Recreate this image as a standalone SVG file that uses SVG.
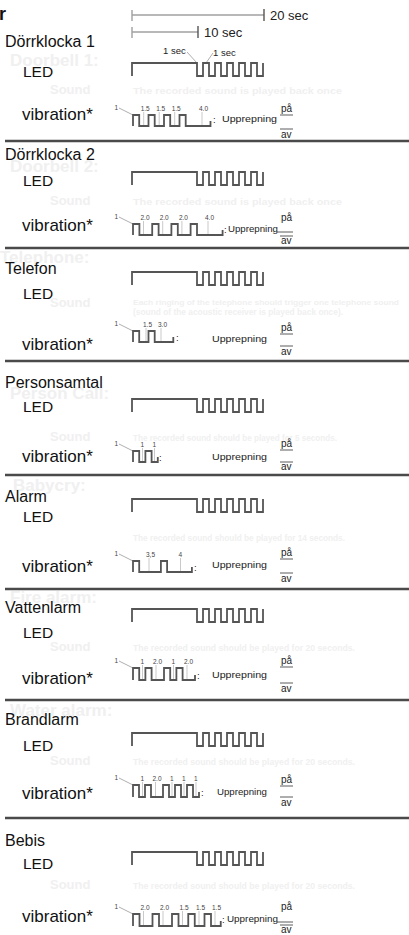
<svg xmlns="http://www.w3.org/2000/svg" width="409" height="935" viewBox="0 0 409 935">
<style>
text{font-family:"Liberation Sans",Arial,sans-serif}
.bg{fill:#fff}
.ti{font-size:16px;fill:#111}
.lb{font-size:15.5px;fill:#111}
.vb{font-size:17px;fill:#111}
.up{font-size:9.5px;fill:#222}
.pa{font-size:10px;fill:#222}
.n{font-size:6.5px;fill:#444}
.sec{font-size:13px;fill:#222}
.sec1{font-size:9.5px;fill:#222}
.gh{font-weight:bold;font-size:17px;fill:#f0f0f0}
.gs{font-weight:bold;font-size:9px;fill:#f0f0f0}
.gl{font-weight:bold;font-size:13px;fill:#f0f0f0}
.w{fill:none;stroke:#555;stroke-width:1.8}
.tk{stroke:#bbb;stroke-width:0.8}
.ld{stroke:#999;stroke-width:0.8}
.ul{stroke:#333;stroke-width:0.8}
.sep{stroke:#4a4a4a;stroke-width:2.4}
.bar{stroke:#a0a0a0;stroke-width:1.4}
.bt{stroke:#555;stroke-width:1.4}
</style>
<defs>
<path id="led" class="w" d="M0,13V0H65V13H71V0H77V13H83V0H89V13H95V0H101V13H107V0H113V13H119V0H125V13H131V0"/>
</defs>
<rect class="bg" x="0" y="0" width="409" height="935"/>

<g id="header">
<text x="-1" y="20" style="font-size:18px;font-weight:bold;fill:#111">r</text>
<line class="bar" x1="132" y1="15" x2="264" y2="15"/>
<line class="bar" x1="132" y1="10" x2="132" y2="21"/>
<line class="bt" x1="264" y1="9" x2="264" y2="21"/>
<text class="sec" x="270" y="20">20 sec</text>
<line class="bar" x1="132" y1="32" x2="198" y2="32"/>
<line class="bar" x1="132" y1="27" x2="132" y2="38"/>
<line class="bt" x1="198" y1="26" x2="198" y2="38"/>
<text class="sec" x="204" y="37">10 sec</text>
</g>

<g id="doorbell1">
<text class="gh" x="10" y="66">Doorbell 1:</text>
<text class="gl" x="50" y="94">Sound</text>
<text class="gs" x="133" y="94" textLength="209" lengthAdjust="spacingAndGlyphs">The recorded sound is played back once</text>
<text class="ti" x="5" y="47">Dörrklocka 1</text>
<text class="lb" x="23" y="77">LED</text>
<text class="sec1" x="163" y="54">1 sec</text>
<text class="sec1" x="213" y="56">1 sec</text>
<line class="ld" x1="187" y1="52" x2="197" y2="63"/>
<line class="ld" x1="213" y1="53" x2="206" y2="63"/>
<use href="#led" x="132" y="63"/>
<text class="vb" x="22" y="120">vibration*</text>
<text class="n" x="114.5" y="110">1</text>
<line class="ld" x1="119" y1="108" x2="133" y2="115"/>
<text class="n" x="140.7" y="111">1.5</text><text class="n" x="156.2" y="111">1.5</text><text class="n" x="171.7" y="111">1.5</text><text class="n" x="199" y="111">4.0</text>
<path class="tk" d="M143.7,112V126M159.2,112V126M174.7,112V126M202,112V126"/>
<path class="w" d="M133,126V115H139.2V126H148.5V115H154.7V126H164V115H170.2V126H179.5V115H185.7V126H210.5V121"/>
<text class="up" x="213" y="123">:</text>
<text class="up" x="222" y="122" textLength="55" lengthAdjust="spacingAndGlyphs">Upprepning</text>
<text class="pa" x="281" y="112">på</text>
<line class="ul" x1="280" y1="115" x2="293" y2="115"/>
<line class="ul" x1="280" y1="129" x2="293" y2="129"/>
<text class="pa" x="281" y="138">av</text>
</g>

<g id="doorbell2">
<text class="gh" x="10" y="172">Doorbell 2:</text>
<text class="gl" x="50" y="205">Sound</text>
<text class="gs" x="133" y="205" textLength="209" lengthAdjust="spacingAndGlyphs">The recorded sound is played back once</text>
<text class="ti" x="5" y="160">Dörrklocka 2</text>
<text class="lb" x="23" y="186">LED</text>
<use href="#led" x="132" y="172"/>
<text class="vb" x="22" y="231">vibration*</text>
<text class="n" x="114.5" y="219">1</text>
<line class="ld" x1="119" y1="217" x2="133" y2="224"/>
<text class="n" x="140.5" y="220">2.0</text><text class="n" x="159.7" y="220">2.0</text><text class="n" x="178.9" y="220">2.0</text><text class="n" x="205" y="220">4.0</text>
<path class="tk" d="M143.5,221V235M162.7,221V235M181.9,221V235M208,221V235"/>
<path class="w" d="M133,235V224H139.4V235H152.2V224H158.6V235H171.4V224H177.8V235H190.6V224H197V235H222.6V230"/>
<text class="up" x="224" y="233">:</text>
<text class="up" x="228" y="232" textLength="50" lengthAdjust="spacingAndGlyphs">Upprepning</text>
<text class="pa" x="281" y="221">på</text>
<line class="ul" x1="277" y1="232" x2="293" y2="232"/>
<line class="ul" x1="280" y1="236" x2="293" y2="236"/>
<text class="pa" x="281" y="244">av</text>
</g>

<g id="telefon">
<text class="gh" x="0" y="263">Telephone:</text>
<text class="gl" x="50" y="307">Sound</text>
<text class="gs" x="133" y="305" style="font-size:7.5px" textLength="266" lengthAdjust="spacingAndGlyphs">Each ringing of the telephone should trigger one telephone sound</text>
<text class="gs" x="133" y="315" textLength="210" lengthAdjust="spacingAndGlyphs">(sound of the acoustic receiver is played back once).</text>
<text class="ti" x="5" y="274">Telefon</text>
<text class="lb" x="23" y="299">LED</text>
<use href="#led" x="132" y="272"/>
<text class="vb" x="22" y="350">vibration*</text>
<text class="n" x="114.5" y="326">1</text>
<line class="ld" x1="119" y1="324" x2="133" y2="331"/>
<text class="n" x="143" y="327">1.5</text><text class="n" x="158" y="327">3.0</text>
<path class="tk" d="M146,328V342M161,328V342"/>
<path class="w" d="M133,342V331H139.2V342H148.5V331H154.7V342H173.3V337"/>
<text class="up" x="176" y="341">:</text>
<text class="up" x="212" y="342" textLength="55" lengthAdjust="spacingAndGlyphs">Upprepning</text>
<text class="pa" x="281" y="331">på</text>
<line class="ul" x1="280" y1="334" x2="293" y2="334"/>
<line class="ul" x1="280" y1="346" x2="293" y2="346"/>
<text class="pa" x="281" y="355">av</text>
</g>

<g id="personsamtal">
<text class="gh" x="10" y="399">Person Call:</text>
<text class="gl" x="50" y="441">Sound</text>
<text class="gs" x="133" y="441" textLength="204" lengthAdjust="spacingAndGlyphs">The recorded sound should be played for 5 seconds.</text>
<text class="ti" x="5" y="388">Personsamtal</text>
<text class="lb" x="23" y="412">LED</text>
<use href="#led" x="132" y="399"/>
<text class="vb" x="22" y="462">vibration*</text>
<text class="n" x="114.5" y="446">1</text>
<line class="ld" x1="119" y1="444" x2="133" y2="451"/>
<text class="n" x="140.5" y="447">1</text><text class="n" x="152.5" y="447">1</text>
<path class="tk" d="M142.5,448V462M154.5,448V462"/>
<path class="w" d="M133,462V451H139.2V462H145.4V451H151.6V462H157.8V457"/>
<text class="up" x="159" y="461">:</text>
<text class="up" x="212" y="460" textLength="55" lengthAdjust="spacingAndGlyphs">Upprepning</text>
<text class="pa" x="281" y="447">på</text>
<line class="ul" x1="280" y1="450" x2="293" y2="450"/>
<line class="ul" x1="280" y1="462" x2="293" y2="462"/>
<text class="pa" x="281" y="470">av</text>
</g>

<g id="alarm">
<text class="gh" x="13" y="491">Babycry:</text>
<text class="gs" x="133" y="541" textLength="212" lengthAdjust="spacingAndGlyphs">The recorded sound should be played for 14 seconds.</text>
<text class="ti" x="5" y="502">Alarm</text>
<text class="lb" x="23" y="522">LED</text>
<use href="#led" x="132" y="499"/>
<text class="vb" x="22" y="572">vibration*</text>
<text class="n" x="114.5" y="556">1</text>
<line class="ld" x1="119" y1="554" x2="133" y2="561"/>
<text class="n" x="146" y="557">3,5</text><text class="n" x="178.5" y="557">4</text>
<path class="tk" d="M149,558V572M180.5,558V572"/>
<path class="w" d="M133,572V561H139.2V572H160.9V561H167.1V572H191.9V567"/>
<text class="up" x="194" y="571">:</text>
<text class="up" x="212" y="568" textLength="55" lengthAdjust="spacingAndGlyphs">Upprepning</text>
<text class="pa" x="281" y="556">på</text>
<line class="ul" x1="280" y1="559" x2="293" y2="559"/>
<line class="ul" x1="280" y1="573" x2="293" y2="573"/>
<text class="pa" x="281" y="582">av</text>
</g>

<g id="vattenlarm">
<text class="gh" x="10" y="603">Fire alarm:</text>
<text class="gl" x="50" y="651">Sound</text>
<text class="gs" x="133" y="651" textLength="222" lengthAdjust="spacingAndGlyphs">The recorded sound should be played for 20 seconds.</text>
<text class="ti" x="5" y="613">Vattenlarm</text>
<text class="lb" x="23" y="638">LED</text>
<use href="#led" x="132" y="609"/>
<text class="vb" x="22" y="684">vibration*</text>
<text class="n" x="114.5" y="663">1</text>
<line class="ld" x1="119" y1="661" x2="133" y2="668"/>
<text class="n" x="140.5" y="664">1</text><text class="n" x="153" y="664">2.0</text><text class="n" x="171.5" y="664">1</text><text class="n" x="184" y="664">2.0</text>
<path class="tk" d="M142.5,665V680M156,665V680M173.5,665V680M187,665V680"/>
<path class="w" d="M133,680V668H139.2V680H145.4V668H151.6V680H164V668H170.2V680H176.4V668H182.6V680H195V675"/>
<text class="up" x="197" y="679">:</text>
<text class="up" x="212" y="678" textLength="55" lengthAdjust="spacingAndGlyphs">Upprepning</text>
<text class="pa" x="281" y="664">på</text>
<line class="ul" x1="280" y1="667" x2="293" y2="667"/>
<line class="ul" x1="280" y1="683" x2="293" y2="683"/>
<text class="pa" x="281" y="692">av</text>
</g>

<g id="brandlarm">
<text class="gh" x="10" y="716">Water alarm:</text>
<text class="gl" x="50" y="765">Sound</text>
<text class="gs" x="133" y="765" textLength="222" lengthAdjust="spacingAndGlyphs">The recorded sound should be played for 20 seconds.</text>
<text class="ti" x="5" y="725">Brandlarm</text>
<text class="lb" x="23" y="751">LED</text>
<use href="#led" x="132" y="733"/>
<text class="vb" x="22" y="799">vibration*</text>
<text class="n" x="114.5" y="780">1</text>
<line class="ld" x1="119" y1="778" x2="133" y2="785"/>
<text class="n" x="140.5" y="781">1</text><text class="n" x="152.5" y="781">2.0</text><text class="n" x="170" y="781">1</text><text class="n" x="182" y="781">1</text><text class="n" x="194" y="781">1</text>
<path class="tk" d="M142.5,782V797M155.5,782V797M172,782V797M184,782V797M196,782V797"/>
<path class="w" d="M133,797V785H139V797H145V785H151V797H163V785H169V797H175V785H181V797H187V785H193V797H199V792"/>
<text class="up" x="201" y="796">:</text>
<text class="up" x="217" y="795" textLength="50" lengthAdjust="spacingAndGlyphs">Upprepning</text>
<text class="pa" x="281" y="783">på</text>
<line class="ul" x1="280" y1="786" x2="293" y2="786"/>
<line class="ul" x1="280" y1="797" x2="293" y2="797"/>
<text class="pa" x="281" y="806">av</text>
</g>

<g id="bebis">
<text class="gl" x="50" y="889">Sound</text>
<text class="gs" x="133" y="889" textLength="222" lengthAdjust="spacingAndGlyphs">The recorded sound should be played for 20 seconds.</text>
<text class="ti" x="5" y="846">Bebis</text>
<text class="lb" x="23" y="869">LED</text>
<use href="#led" x="132" y="852"/>
<text class="vb" x="22" y="922">vibration*</text>
<text class="n" x="114.5" y="909">1</text>
<line class="ld" x1="119" y1="907" x2="133" y2="914"/>
<text class="n" x="140.5" y="910">2.0</text><text class="n" x="160" y="910">2.0</text><text class="n" x="179.5" y="910">1.5</text><text class="n" x="196" y="910">1.5</text><text class="n" x="212" y="910">1.5</text>
<path class="tk" d="M143.5,911V926M163,911V926M182.5,911V926M199,911V926M215,911V926"/>
<path class="w" d="M133,926V914H139.5V926H152.5V914H159V926H172V914H178.5V926H188.25V914H194.75V926H204.5V914H211V926H220.75V921"/>
<text class="up" x="222" y="923">:</text>
<text class="up" x="227" y="922" textLength="51" lengthAdjust="spacingAndGlyphs">Upprepning</text>
<text class="pa" x="281" y="910">på</text>
<line class="ul" x1="277" y1="922" x2="293" y2="922"/>
<line class="ul" x1="280" y1="925" x2="293" y2="925"/>
<text class="pa" x="281" y="933">av</text>
</g>

<g id="connectors">
<line class="sep" x1="5" y1="141" x2="409" y2="141"/>
<line class="sep" x1="5" y1="248" x2="409" y2="248"/>
<line class="sep" x1="5" y1="361" x2="409" y2="361"/>
<line class="sep" x1="5" y1="475" x2="409" y2="475"/>
<line class="sep" x1="5" y1="589" x2="409" y2="589"/>
<line class="sep" x1="5" y1="700" x2="409" y2="700"/>
<line class="sep" x1="5" y1="818" x2="409" y2="818"/>
</g>
</svg>
